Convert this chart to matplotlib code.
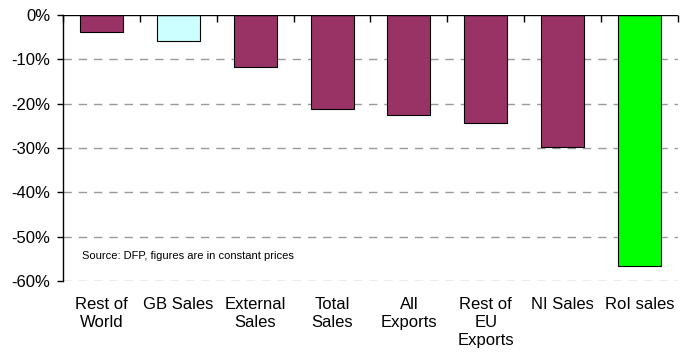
import matplotlib.pyplot as plt
import numpy as np

plt.rcParams['font.family'] = ['Liberation Sans', 'DejaVu Sans']

categories = ['Rest of\nWorld', 'GB Sales', 'External\nSales', 'Total\nSales',
              'All\nExports', 'Rest of\nEU\nExports', 'NI Sales', 'RoI sales']
changes = [-3.8, -5.9, -11.7, -21.2, -22.6, -24.4, -29.8, -56.7]
bar_colors = ['#993366', '#CCFFFF', '#993366', '#993366',
              '#993366', '#993366', '#993366', '#00FF00']
y_ticks = [0, -10, -20, -30, -40, -50, -60]

fig = plt.figure(figsize=(6.89, 3.54), dpi=100)
ax = fig.add_axes([0.0914, 0.2062, 0.8926, 0.7514])

x = np.arange(len(categories))
ax.bar(x, changes, width=0.56, color=bar_colors, edgecolor='black', linewidth=0.8, zorder=3)

ax.set_xlim(-0.5, len(categories) - 0.5)
ax.set_ylim(-60, 0)

# dashed gridlines, solid zero line on top
for v in y_ticks[1:]:
    ax.axhline(v, color='#999999', linestyle=(0, (6, 5)), linewidth=1, zorder=1)
ax.axhline(0, color='black', linewidth=1, zorder=4)

for side in ['top', 'right', 'bottom']:
    ax.spines[side].set_visible(False)
ax.spines['left'].set_linewidth(1)

ax.set_yticks(y_ticks)
ax.set_yticklabels([f'{v}%' for v in y_ticks], fontsize=12)
ax.tick_params(axis='y', length=4, width=1, pad=5)

# category boundary ticks hanging from the zero line
ax.set_xticks(np.arange(len(categories) + 1) - 0.5)
ax.set_xticklabels([])
ax.xaxis.set_ticks_position('top')
ax.tick_params(axis='x', direction='in', length=5, width=1)

for i, label in enumerate(categories):
    ax.text(i, -63.7, label, ha='center', va='top', fontsize=12,
            linespacing=1.22, clip_on=False)

ax.text(-0.25, -54.3, 'Source: DFP, figures are in constant prices',
        fontsize=8, va='center', ha='left')

fig.savefig('out.png', dpi=100)
